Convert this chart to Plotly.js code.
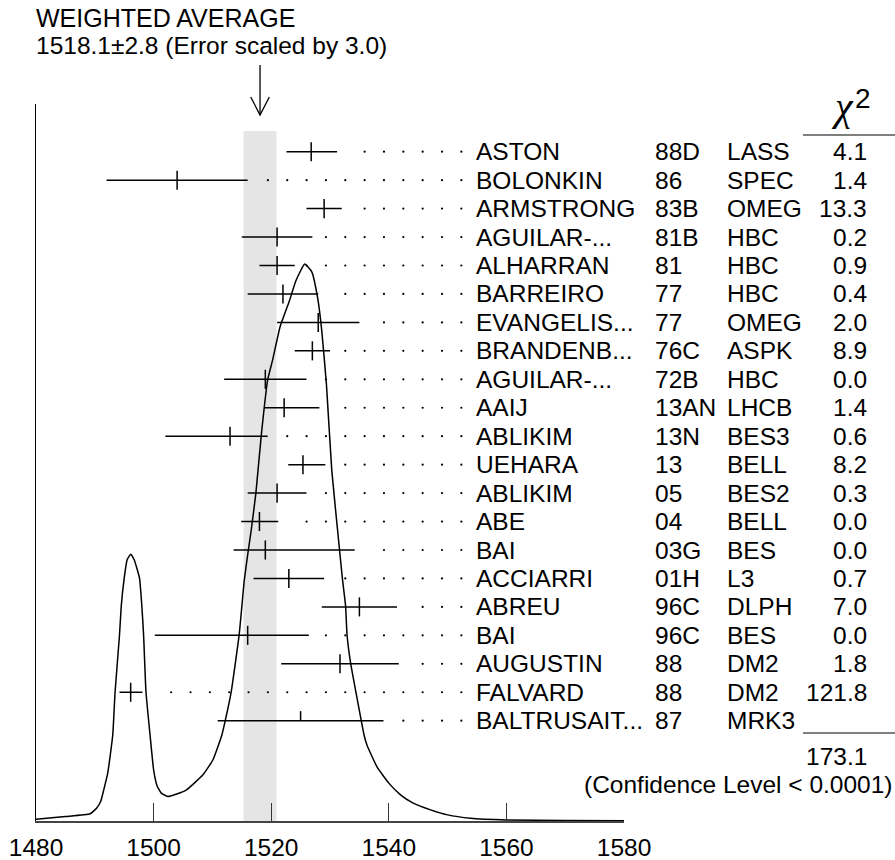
<!DOCTYPE html>
<html>
<head>
<meta charset="utf-8">
<script src="https://cdn.plot.ly/plotly-3.0.1.min.js"></script>
<style>html,body{margin:0;padding:0;background:#fff;}#chart{width:895px;height:860px;}</style>
</head>
<body>
<div id="chart"></div>
<script>
// ---------- data ----------
const names  = ['ASTON','BOLONKIN','ARMSTRONG','AGUILAR-...','ALHARRAN','BARREIRO','EVANGELIS...','BRANDENB...','AGUILAR-...','AAIJ','ABLIKIM','UEHARA','ABLIKIM','ABE','BAI','ACCIARRI','ABREU','BAI','AUGUSTIN','FALVARD','BALTRUSAIT...'];
const years  = ['88D','86','83B','81B','81','77','77','76C','72B','13AN','13N','13','05','04','03G','01H','96C','96C','88','88','87'];
const expts  = ['LASS','SPEC','OMEG','HBC','HBC','HBC','OMEG','ASPK','HBC','LHCB','BES3','BELL','BES2','BELL','BES','L3','DLPH','BES','DM2','DM2','MRK3'];
const chi2   = ['4.1','1.4','13.3','0.2','0.9','0.4','2.0','8.9','0.0','1.4','0.6','8.2','0.3','0.0','0.0','0.7','7.0','0.0','1.8','121.8',''];
const values   = [1526.8,1504.0,1529.0,1521.0,1521.0,1522.0,1528.0,1527.0,1519.0,1522.2,1513.0,1525.4,1521.0,1518.0,1519.0,1523.0,1535.0,1516.0,1531.7,1496.1,1525.0];
const errMinus = [4.2,12.0,3.0,6.0,3.0,6.0,7.0,3.0,7.0,3.3,11.0,2.5,5.0,3.1,5.4,6.0,6.4,15.8,10.0,1.9,14.1];
const errPlus  = [4.4,12.0,3.0,6.0,3.0,6.0,7.0,3.0,7.0,6.0,6.4,3.8,5.0,3.2,15.2,6.0,6.4,10.4,10.0,2.0,14.1];
const usedInFit = [1,1,1,1,1,1,1,1,1,1,1,1,1,1,1,1,1,1,1,1,0];
const chi2Total = '173.1';
const confLevel = '(Confidence Level < 0.0001)';
const avgValue = 1518.1, avgError = 2.8, errScale = '3.0';
const xTicks = [1480,1500,1520,1540,1560,1580];
// ideogram curve (relative height, peak = 1)
const curveX = [1480,1485,1489.2,1490.3,1491.0,1491.5,1492.2,1493.05,1493.45,1494.2,1494.5,1495.0,1495.5,1496.1,1496.7,1497.6,1498.0,1498.3,1498.7,1499.4,1500.0,1500.6,1501.3,1502.4,1503.8,1505.6,1508.4,1510.1,1511.6,1512.2,1513.2,1514.55,1515.0,1515.4,1516.0,1516.6,1517.4,1518.3,1519.4,1520.2,1521.5,1523.1,1524.2,1525.7,1526.9,1527.9,1528.6,1529.4,1530.3,1531.46,1532.1,1532.65,1532.9,1533.5,1534.4,1535.3,1535.8,1536.3,1538.0,1540.0,1542.0,1544.0,1547.1,1550.0,1553.9,1560.0,1570.0,1580.0];
const curveH = [0.003,0.008,0.013,0.023,0.035,0.055,0.086,0.154,0.232,0.334,0.386,0.436,0.469,0.479,0.469,0.436,0.386,0.334,0.232,0.154,0.092,0.063,0.050,0.044,0.048,0.056,0.083,0.110,0.154,0.181,0.232,0.334,0.384,0.430,0.478,0.522,0.589,0.691,0.792,0.826,0.887,0.934,0.970,1.000,0.986,0.939,0.880,0.783,0.630,0.504,0.436,0.386,0.334,0.284,0.232,0.181,0.154,0.136,0.097,0.068,0.047,0.033,0.020,0.011,0.005,0.002,0.001,0.0005];

// ---------- layout constants ----------
const W = 895, H = 860, L = 36, R = 271, T = 104, B = 39;
const PW = W - L - R, PH = H - T - B;
const px2x = p => (p - L) / PW;
const py2y = p => (H - B - p) / PH;
const FONT = 'Liberation Sans, Arial, Helvetica, sans-serif';
const FS = 24.5;
const ROW_TOP = 1.677, ROW_BOTTOM = -23.525;
const TICK = 0.335;
const DOT_END = 1552.34, DOT_STEP = 3.29, DOT_GAP = 1.87;
const CURVE_TOP = PH / 557;

// ---------- build traces ----------
const ebX = [], ebY = [], tkX = [], tkY = [], dX = [], dY = [];
values.forEach((v, i) => {
  const y = -i, lo = v - errMinus[i], hi = v + errPlus[i];
  ebX.push(lo, hi, null); ebY.push(y, y, null);
  tkX.push(v, v, null); tkY.push(usedInFit[i] ? y - TICK : y, y + TICK, null);
  for (let x = DOT_END; x > hi + DOT_GAP; x -= DOT_STEP) { dX.push(x); dY.push(y); }
});

const traces = [
  {x: dX, y: dY, mode: 'markers', type: 'scatter', hoverinfo: 'skip',
   marker: {size: 2.2, color: '#000'}},
  {x: ebX, y: ebY, mode: 'lines', type: 'scatter', hoverinfo: 'skip',
   line: {color: '#000', width: 1.5}},
  {x: tkX, y: tkY, mode: 'lines', type: 'scatter', hoverinfo: 'skip',
   line: {color: '#000', width: 1.5}},
  {x: curveX, y: curveH, yaxis: 'y2', mode: 'lines', type: 'scatter', hoverinfo: 'skip',
   line: {color: '#000', width: 1.5, shape: 'spline', smoothing: 0.4}}
];

// ---------- annotations ----------
const ann = [];
const txt = (text, x, y, xanchor, opts = {}) => Object.assign({
  text, x, y, xref: 'paper', yref: 'paper', xanchor, yanchor: 'middle',
  showarrow: false, font: {family: FONT, size: FS, color: '#000'}
}, opts);

ann.push(txt('WEIGHTED AVERAGE', px2x(34), py2y(18.5), 'left', {font: {family: FONT, size: 25, color: '#000'}}));
ann.push(txt(avgValue.toFixed(1) + '\u00B1' + avgError.toFixed(1) + ' (Error scaled by ' + errScale + ')', px2x(34), py2y(45.5), 'left'));

names.forEach((n, i) => {
  const rowOpts = {yref: 'y', y: -i, yshift: 0};
  ann.push(txt(n, px2x(474), 0, 'left', rowOpts));
  ann.push(txt(years[i], px2x(653), 0, 'left', rowOpts));
  ann.push(txt(expts[i], px2x(725), 0, 'left', rowOpts));
  if (chi2[i]) ann.push(txt(chi2[i], px2x(869), 0, 'right', rowOpts));
});
ann.push(txt('<i>\u03C7</i>', px2x(842), py2y(106), 'center', {font: {family: 'Liberation Serif, DejaVu Serif, serif', size: 40, color: '#000'}}));
ann.push(txt('2', px2x(862.5), py2y(99), 'center', {font: {family: FONT, size: 28, color: '#000'}}));
ann.push(txt(chi2Total, px2x(869), py2y(756), 'right'));
ann.push(txt(confLevel, px2x(895), py2y(784), 'right'));

// ---------- shapes ----------
const arrowTop = py2y(65), arrowTip = py2y(115), arrowArm = py2y(97);
const armDx = 9.3 / PW * 100;
const shapes = [
  {type: 'rect', xref: 'x', yref: 'paper', x0: avgValue - avgError, x1: avgValue + avgError,
   y0: 0, y1: py2y(131), fillcolor: '#e5e5e5', line: {width: 0}, layer: 'below'},
  {type: 'line', xref: 'x', yref: 'paper', x0: avgValue, x1: avgValue, y0: arrowTop, y1: arrowTip,
   line: {color: '#000', width: 1.3}},
  {type: 'path', xref: 'x', yref: 'paper',
   path: `M ${avgValue - armDx},${arrowArm} L ${avgValue},${arrowTip} L ${avgValue + armDx},${arrowArm}`,
   line: {color: '#000', width: 1.3}},
  {type: 'line', xref: 'paper', yref: 'paper', x0: px2x(803), x1: px2x(895), y0: py2y(135), y1: py2y(135),
   line: {color: '#000', width: 1.2}},
  {type: 'line', xref: 'paper', yref: 'paper', x0: px2x(803), x1: px2x(895), y0: py2y(733), y1: py2y(733),
   line: {color: '#000', width: 1.2}}
];

const layout = {
  width: W, height: H,
  margin: {l: L, r: R, t: T, b: B, pad: 0},
  paper_bgcolor: '#fff', plot_bgcolor: 'rgba(0,0,0,0)',
  showlegend: false,
  font: {family: FONT, size: FS, color: '#000'},
  xaxis: {range: [xTicks[0], xTicks[xTicks.length - 1]], tickvals: xTicks, ticktext: xTicks.map(String),
          ticks: 'inside', ticklen: 18, tickwidth: 1.3, tickcolor: '#333',
          showline: true, linecolor: '#444', linewidth: 2, showgrid: false, zeroline: false,
          ticklabelstandoff: 4,
          tickfont: {family: FONT, size: FS, color: '#000'}, fixedrange: true},
  yaxis: {range: [ROW_BOTTOM, ROW_TOP], showline: true, linecolor: '#000', linewidth: 1.5,
          showticklabels: false, ticks: '', showgrid: false, zeroline: false, fixedrange: true},
  yaxis2: {overlaying: 'y', range: [0, CURVE_TOP], visible: false, fixedrange: true},
  annotations: ann,
  shapes: shapes
};

Plotly.newPlot('chart', traces, layout, {staticPlot: true, displayModeBar: false});
</script>
</body>
</html>
